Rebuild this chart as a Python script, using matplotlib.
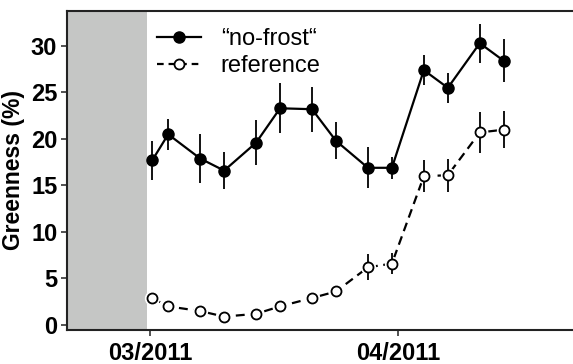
import numpy as np
import matplotlib
matplotlib.use('Agg')
import matplotlib.pyplot as plt
import matplotlib.dates as mdates

plt.rcParams['font.family'] = ['Liberation Sans', 'DejaVu Sans']

# sampling dates (Mon/Thu)
dates = np.array(['2011-03-01', '2011-03-03', '2011-03-07', '2011-03-10',
                  '2011-03-14', '2011-03-17', '2011-03-21', '2011-03-24',
                  '2011-03-28', '2011-03-31', '2011-04-04', '2011-04-07',
                  '2011-04-11', '2011-04-14'], dtype='datetime64[D]')

nofrost = [17.7, 20.5, 17.9, 16.6, 19.6, 23.3, 23.2, 19.8, 16.9, 16.9,
           27.4, 25.5, 30.3, 28.4]
nofrost_err = [2.1, 1.7, 2.6, 2.0, 2.4, 2.7, 2.4, 2.0, 2.2, 1.2,
               1.6, 1.6, 2.1, 2.3]

reference = [2.9, 2.0, 1.5, 0.9, 1.2, 2.0, 2.9, 3.6, 6.2, 6.6,
             16.0, 16.1, 20.7, 21.0]
reference_err = [0.3, 0.3, 0.3, 0.3, 0.3, 0.3, 0.3, 0.4, 1.4, 1.1,
                 1.7, 1.8, 2.2, 2.0]

tick_dates = np.array(['2011-03-01', '2011-04-01'], dtype='datetime64[D]')
tick_labels = ['03/2011', '04/2011']

# grey period (before start of measurements)
shade_start = np.datetime64('2011-02-15')
shade_end = np.datetime64('2011-02-28T14:00')

xmin = np.datetime64('2011-02-18T14:00')
xmax = np.datetime64('2011-04-22T22:00')

fig = plt.figure(figsize=(5.73, 3.64), dpi=100)
ax = fig.add_axes([67/573, 34/364, 506/573, 319/364])

ax.axvspan(shade_start, shade_end, color='#c5c6c5', lw=0, zorder=0)

x = dates.astype('datetime64[h]') + np.timedelta64(6, 'h')

# no-frost
ax.plot(x, nofrost, color='black', lw=1.6, zorder=2)
ax.errorbar(x, nofrost, yerr=nofrost_err, fmt='none', ecolor='black',
            elinewidth=1.3, capsize=0, zorder=3)
ax.plot(x, nofrost, 'o', color='black', ms=8, zorder=4)

# reference
ax.plot(x, reference, color='black', lw=1.6, ls=(0, (4, 2.5)), zorder=2)
ax.plot(x, reference, 'o', color='white', ms=10, mec='white', zorder=2.5)
ax.errorbar(x, reference, yerr=reference_err, fmt='none', ecolor='black',
            elinewidth=1.3, capsize=0, zorder=3)
ax.plot(x, reference, 'o', mfc='white', mec='black', mew=1.3, ms=7.2,
        zorder=4)

# legend handles
h1, = ax.plot([], [], '-o', color='black', lw=1.6, ms=8)
h2, = ax.plot([], [], 'o', mfc='white', mec='black', mew=1.3, ms=7.2,
              color='black', ls=(0, (3, 2.2)), lw=1.6)
ax.legend([h1, h2], ['\u201cno-frost\u201c', 'reference'],
          loc='upper left', bbox_to_anchor=((157-67)/506, 1-(28-11)/319),
          frameon=False, fontsize=17, handlelength=1.85,
          handletextpad=0.85, labelspacing=0.22, borderpad=0,
          borderaxespad=0)

ax.set_xlim(xmin, xmax)
ax.set_ylim(-0.54, 33.76)
ax.set_yticks([0, 5, 10, 15, 20, 25, 30])
ax.set_xticks(tick_dates.astype('datetime64[h]'))
ax.set_xticklabels(tick_labels)

ax.set_ylabel('Greenness (%)', fontsize=16.5, fontweight='bold', labelpad=4)

for lab in ax.get_xticklabels() + ax.get_yticklabels():
    lab.set_fontweight('bold')
    lab.set_fontsize(17)

ax.tick_params(axis='both', direction='out', length=4, width=1.1,
               color='#222222')
ax.tick_params(axis='y', pad=3)
ax.tick_params(axis='x', pad=5)

for s in ['left', 'top', 'bottom']:
    ax.spines[s].set_linewidth(1.5)
    ax.spines[s].set_color('#222222')
ax.spines['right'].set_visible(False)

fig.savefig('out.png', dpi=100)
